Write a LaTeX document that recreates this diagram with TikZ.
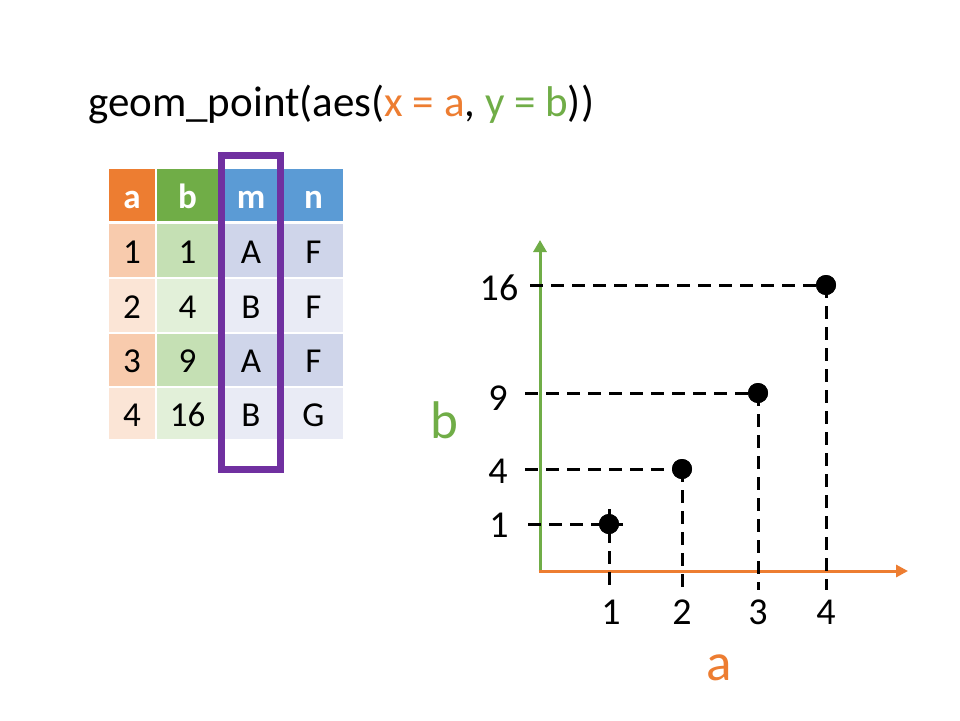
\documentclass[tikz,border=0pt]{standalone}
\usepackage{fontspec}
\setmainfont{Carlito}
\usetikzlibrary{arrows.meta}
\definecolor{cOr}{HTML}{ED7D31}
\definecolor{cGr}{HTML}{70AD47}
\definecolor{cBl}{HTML}{5B9BD5}
\definecolor{cPu}{HTML}{7030A0}
\definecolor{aLa}{HTML}{F8CBAD}
\definecolor{aLb}{HTML}{FBE5D6}
\definecolor{bLa}{HTML}{C5E0B4}
\definecolor{bLb}{HTML}{E2F0D9}
\definecolor{mLa}{HTML}{CFD5EA}
\definecolor{mLb}{HTML}{E9EBF5}
\begin{document}
\begin{tikzpicture}[x=1pt,y=-1pt,
  cellbox/.style={inner sep=0pt, outer sep=0pt, minimum height=52pt, text height=25pt, text depth=0pt,
    font=\fontsize{35}{35}\selectfont},
  headbox/.style={cellbox, text height=26pt, text=white, font=\fontsize{35}{35}\selectfont\bfseries},
  tick/.style={inner sep=0pt, font=\fontsize{38}{38}\selectfont},
  axlabel/.style={inner sep=0pt, font=\fontsize{53}{53}\selectfont},
  guide/.style={draw=black, line width=3pt, dash pattern=on 13pt off 8pt},
  dot/.style={circle, fill=black, inner sep=0pt, minimum size=20pt},
  yaxis/.style={draw=cGr, line width=3pt, -{Triangle[length=12pt,width=13pt]}},
  xaxis/.style={draw=cOr, line width=3pt, -{Triangle[length=12pt,width=12pt]}},
  selbox/.style={draw=cPu, line width=7pt}
]
\useasboundingbox (0,0) rectangle (960,720);
\fill[white] (0,0) rectangle (960,720);

% title
\node[anchor=base west, inner sep=0pt, font=\fontsize{43}{43}\selectfont] (title) at (88,116)
  {geom\_point(aes(\textcolor{cOr}{x = a}, \textcolor{cGr}{y = b}))};

% table
\foreach \k/\x/\w/\hc/\la/\lb/\va/\vb/\vc/\vd in
  {a/132/46/cOr/aLa/aLb/1/2/3/4,
   b/187.5/61/cGr/bLa/bLb/1/4/9/16,
   m/251/62/cBl/mLa/mLb/A/B/A/B,
   n/313.5/59/cBl/mLa/mLb/F/F/F/G} {
  \node[headbox, fill=\hc, minimum width=\w pt] (h\k) at (\x,195) {\k};
  \node[cellbox, fill=\la, minimum width=\w pt, minimum height=53pt] (\k1) at (\x,250.5) {\va};
  \node[cellbox, fill=\lb, minimum width=\w pt, minimum height=53pt] (\k2) at (\x,305.5) {\vb};
  \node[cellbox, fill=\la, minimum width=\w pt] (\k3) at (\x,360) {\vc};
  \node[cellbox, fill=\lb, minimum width=\w pt, minimum height=51pt] (\k4) at (\x,413.5) {\vd};
}
\node[selbox, inner sep=0pt, minimum width=59pt, minimum height=314pt] (sel) at (250.5,312) {};

% plot points
\coordinate (O) at (540,571);
\coordinate (ytip) at (540,240);
\coordinate (xtip) at (908,571);

\node[dot] (p1) at (609,524) {};
\node[dot] (p2) at (682,469) {};
\node[dot] (p3) at (758,393) {};
\node[dot] (p4) at (826,285) {};

\coordinate (l1) at (528,524);
\coordinate (r1) at (623,524);
\coordinate (u1) at (609,509);
\coordinate (d1) at (609,590);
\coordinate (l2) at (525,469);
\coordinate (d2) at (682,590);
\coordinate (l3) at (525,393);
\coordinate (d3) at (758,590);
\coordinate (l4) at (530,285);
\coordinate (d4) at (826,590);

\draw[yaxis] (O) -- (ytip);
\draw[xaxis] ([xshift=-1.5pt]O) -- (xtip);

\draw[guide] (l1) -- (r1);
\draw[guide] (u1) -- (d1);
\draw[guide] (l2) -- (p2.center);
\draw[guide] (p2.center) -- (d2);
\draw[guide] (l3) -- (p3.center);
\draw[guide] (p3.center) -- (d3);
\draw[guide] (l4) -- (p4.center);
\draw[guide] (p4.center) -- (d4);

% redraw dots on top
\foreach \p in {p1,p2,p3,p4} \fill (\p) circle (10pt);

% tick labels
\node[tick] (x1) at (611,612) {1};
\node[tick] (x2) at (682,612) {2};
\node[tick] (x3) at (758,612) {3};
\node[tick] (x4) at (826,612) {4};
\node[tick] (y16) at (499,288) {16};
\node[tick] (y9) at (498,398) {9};
\node[tick] (y4) at (498,471) {4};
\node[tick] (y1) at (499,525.5) {1};

% axis labels
\node[axlabel, text=cGr] (blab) at (444,420) {b};
\node[axlabel, text=cOr] (alab) at (719,668) {a};
\end{tikzpicture}
\end{document}
